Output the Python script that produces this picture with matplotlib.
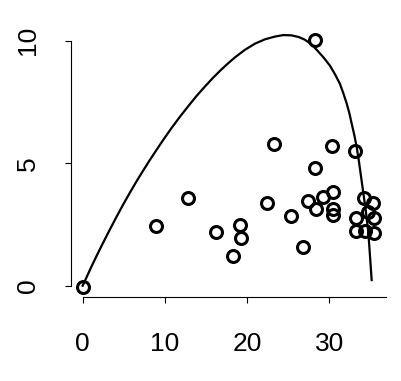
import numpy as np
import matplotlib.pyplot as plt

plt.rcParams['font.family'] = ['Liberation Sans', 'DejaVu Sans']

# observed points
px = [0.0, 28.3, 8.9, 12.85, 16.2, 19.2, 19.25, 18.35, 23.3, 22.4, 25.35,
      26.75, 28.3, 27.4, 28.4, 29.3, 30.4, 30.4, 30.4, 30.3, 33.1, 34.2,
      35.35, 33.25, 34.75, 35.45, 33.2, 34.35, 35.45]
py = [-0.05, 10.03, 2.44, 3.57, 2.18, 2.48, 1.93, 1.22, 5.78, 3.36, 2.84,
      1.57, 4.82, 3.47, 3.13, 3.63, 3.81, 3.14, 2.89, 5.71, 5.5, 3.57,
      3.39, 2.75, 3.02, 2.75, 2.23, 2.23, 2.16]

# fitted curve
cx = [0.0, 0.28, 1.0, 1.7, 2.5, 3.32, 4.1, 4.94, 5.75, 6.57, 7.4, 8.19,
      9.0, 9.8, 10.8, 11.84, 12.85, 13.87, 14.9, 15.9, 16.8, 17.7, 18.53,
      19.7, 20.96, 22.2, 23.4, 24.4, 25.4, 26.3, 27.04, 27.8, 28.47, 29.3,
      30.09, 30.7, 31.3, 31.7, 32.12, 32.45, 32.72, 33.05, 33.33, 33.6,
      33.85, 34.1, 34.45, 34.75, 34.95, 35.16]
cy = [0.0, 0.2, 0.73, 1.22, 1.76, 2.3, 2.8, 3.32, 3.8, 4.27, 4.72, 5.14,
      5.55, 5.95, 6.43, 6.9, 7.33, 7.75, 8.14, 8.5, 8.8, 9.08, 9.32,
      9.62, 9.88, 10.06, 10.17, 10.23, 10.22, 10.15, 10.04, 9.86, 9.63, 9.32,
      8.98, 8.63, 8.24, 7.87, 7.44, 7.04, 6.63, 6.15, 5.67, 5.1, 4.5,
      3.9, 3.05, 2.2, 1.25, 0.23]

fig = plt.figure(figsize=(4.01, 3.81), dpi=100)
ax = fig.add_axes([0.177, 0.2205, 0.7855, 0.7144])

ax.plot(cx, cy, color='black', lw=1.6, solid_joinstyle='round')
ax.plot(px, py, 'o', ms=8.6, mfc='none', mec='black', mew=2.2)

ax.set_xlim(-1.42, 36.9)
ax.set_ylim(-0.46, 10.65)
ax.set_xticks([0, 10, 20, 30])
ax.set_yticks([0, 5, 10])

for s in ['top', 'right']:
    ax.spines[s].set_visible(False)
ax.spines['left'].set_bounds(0, 10)
ax.spines['bottom'].set_bounds(0, 36.9)
for s in ['left', 'bottom']:
    ax.spines[s].set_linewidth(0.8)

ax.tick_params(axis='both', direction='out', length=4.3, width=0.8,
               labelsize=19)
ax.tick_params(axis='x', pad=21)
ax.tick_params(axis='y', pad=18)
for lab in ax.get_yticklabels():
    lab.set_rotation(90)
    lab.set_va('center')

fig.savefig('out.png', dpi=100)
